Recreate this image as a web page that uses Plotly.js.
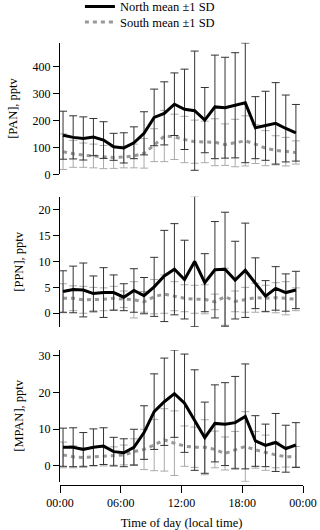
<!DOCTYPE html>
<html>
<head>
<meta charset="utf-8">
<script src="https://cdn.plot.ly/plotly-3.0.1.min.js"></script>
<style>
  html, body { margin: 0; padding: 0; background: #fff; }
  #chart { width: 320px; height: 530px; }
</style>
</head>
<body>
<div id="chart"></div>
<script>
// hour of day (bin position, local time)
const hours = [0.3, 1.3, 2.3, 3.3, 4.3, 5.3, 6.3, 7.3, 8.3, 9.3, 10.3, 11.3,
  12.3, 13.3, 14.3, 15.3, 16.3, 17.3, 18.3, 19.3, 20.3, 21.3, 22.3, 23.3];

// [PAN], pptv
const panNorth = [145, 137, 133, 138, 127, 102, 98, 117, 152, 211, 226, 260,
  241, 236, 201, 250, 247, 256, 265, 173, 180, 189, 170, 154];
const panNorthSd = [89, 80, 80, 69, 68, 50, 56, 59, 80, 105, 117, 116,
  149, 221, 121, 192, 187, 195, 222, 115, 128, 151, 124, 105];
const panSouth = [84, 76, 71, 68, 64, 62, 64, 68, 78, 108, 142, 139,
  129, 121, 120, 119, 110, 116, 124, 112, 97, 89, 84, 81];
const panSouthSd = [66, 50, 45, 44, 43, 40, 40, 44, 55, 61, 95, 84,
  86, 80, 77, 87, 77, 88, 93, 72, 65, 54, 53, 43];

// [PPN], pptv
const ppnNorth = [4.2, 4.6, 4.5, 3.8, 4.0, 4.0, 3.1, 4.4, 3.4, 5.1, 7.2, 8.5,
  6.5, 10.0, 5.9, 8.4, 8.5, 6.4, 8.3, 5.8, 3.3, 4.8, 4.0, 4.5];
const ppnNorthSd = [4.0, 4.5, 5.2, 3.4, 4.8, 3.4, 2.6, 4.2, 3.5, 5.7, 8.8, 8.8,
  7.6, 12.6, 5.6, 9.3, 11.0, 7.5, 9.1, 4.9, 3.0, 4.2, 3.6, 3.6];
const ppnSouth = [2.9, 2.9, 2.6, 2.6, 2.7, 2.9, 2.7, 2.6, 2.2, 3.2, 3.7, 3.3,
  2.9, 2.7, 2.7, 2.2, 3.2, 2.3, 2.6, 3.0, 2.9, 3.0, 2.9, 2.7];
const ppnSouthSd = [2.8, 2.4, 2.6, 2.4, 2.2, 2.3, 1.6, 3.5, 2.0, 3.3, 3.7, 2.8,
  2.6, 2.7, 2.8, 1.5, 5.5, 2.0, 2.4, 2.8, 2.5, 2.9, 3.2, 2.2];

// [MPAN], pptv
const mpanNorth = [5.1, 5.1, 4.5, 5.1, 5.4, 3.9, 3.6, 5.1, 9.1, 14.8, 17.5, 19.7,
  17.1, 12.5, 7.7, 11.6, 11.4, 11.8, 13.5, 6.8, 5.6, 6.4, 4.7, 5.7];
const mpanNorthSd = [5.2, 5.3, 4.6, 5.0, 5.0, 3.9, 3.8, 4.9, 7.3, 10.3, 11.9, 11.9,
  13.4, 13.7, 9.7, 10.5, 11.3, 12.6, 14.3, 6.9, 5.8, 7.9, 6.4, 6.1];
const mpanSouth = [3.0, 2.5, 2.3, 2.5, 2.5, 2.7, 3.0, 3.9, 4.5, 5.7, 7.1, 6.2,
  5.4, 5.1, 5.1, 4.5, 3.4, 4.4, 5.3, 4.4, 3.6, 3.0, 2.5, 2.5];
const mpanSouthSd = [3.5, 3.0, 2.7, 2.5, 2.5, 2.5, 2.7, 3.5, 5.5, 7.0, 8.5, 8.8,
  5.5, 5.5, 7.5, 5.0, 4.5, 5.0, 9.5, 5.0, 4.8, 3.5, 2.8, 2.8];

const tickHours = [0, 6, 12, 18, 24];
const tickLabels = ["00:00", "06:00", "12:00", "18:00", "00:00"];

const serif = "Liberation Serif, Times New Roman, serif";

function north(y, sd, axis, show) {
  return {
    x: hours, y: y, yaxis: axis, type: "scatter", mode: "lines",
    name: "North mean ±1 SD", legend: "legend", showlegend: show,
    line: { color: "#000", width: 3 },
    error_y: { type: "data", array: sd, visible: true, color: "#333", thickness: 1, width: 4 },
    hoverinfo: "x+y"
  };
}

function south(y, sd, axis, show) {
  return {
    x: hours, y: y, yaxis: axis, type: "scatter", mode: "lines",
    name: "South mean ±1 SD", legend: "legend2", showlegend: show,
    line: { color: "#999", width: 3, dash: "4px,4px" },
    error_y: { type: "data", array: sd, visible: true, color: "#aaa", thickness: 1, width: 4 },
    hoverinfo: "x+y"
  };
}

const data = [
  south(panSouth, panSouthSd, "y", true),
  north(panNorth, panNorthSd, "y", true),
  south(ppnSouth, ppnSouthSd, "y2", false),
  north(ppnNorth, ppnNorthSd, "y2", false),
  south(mpanSouth, mpanSouthSd, "y3", false),
  north(mpanNorth, mpanNorthSd, "y3", false)
];

function yAxis(title, domain, range, dtick) {
  return {
    title: { text: title, font: { family: serif, size: 12.5 }, standoff: 12 },
    domain: domain, range: range, tick0: 0, dtick: dtick,
    anchor: "x", showline: true, linecolor: "#000", linewidth: 1,
    ticks: "outside", ticklen: 6, tickcolor: "#000",
    showgrid: false, zeroline: false,
    tickfont: { family: serif, size: 12 }
  };
}

const layout = {
  width: 320, height: 530,
  margin: { l: 60, r: 17, t: 0, b: 0, autoexpand: false },
  paper_bgcolor: "#fff", plot_bgcolor: "#fff",
  font: { family: serif, color: "#000" },
  xaxis: {
    title: { text: "Time of day (local time)", font: { family: serif, size: 12.5 } },
    range: [0, 24], tickvals: tickHours, ticktext: tickLabels,
    anchor: "free", position: 0.0849,
    showline: true, linecolor: "#000", linewidth: 1,
    ticks: "outside", ticklen: 7, tickcolor: "#000",
    showgrid: false, zeroline: false,
    tickfont: { family: serif, size: 12 }
  },
  yaxis: yAxis("[PAN], pptv", [0.6711, 0.9194], [0, 488], 100),
  yaxis2: yAxis("[PPN], pptv", [0.383, 0.6289], [-2.65, 22.5], 5),
  yaxis3: yAxis("[MPAN], pptv", [0.0911, 0.3396], [-4.3, 31.6], 10),
  legend: {
    x: 0.082, xanchor: "left", y: 0.987, yanchor: "middle",
    bgcolor: "rgba(0,0,0,0)", font: { family: serif, size: 12.5 }
  },
  legend2: {
    x: 0.082, xanchor: "left", y: 0.958, yanchor: "middle",
    bgcolor: "rgba(0,0,0,0)", font: { family: serif, size: 12.5 }
  },
  showlegend: true
};

Plotly.newPlot(document.getElementById("chart"), data, layout, { displayModeBar: false, staticPlot: true });
</script>
</body>
</html>
